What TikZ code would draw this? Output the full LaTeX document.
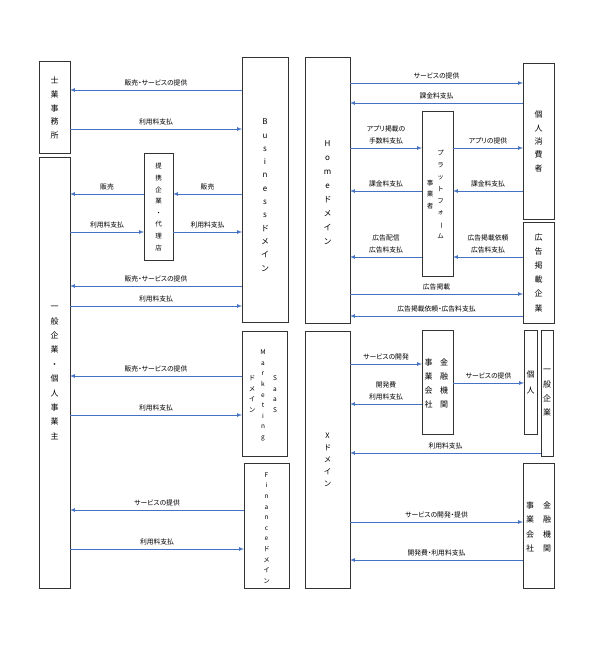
\documentclass[tikz,border=0pt]{standalone}
\usepackage{graphicx}
\usepackage{fontspec}
\setmainfont{Noto Sans CJK JP}
\newfontfamily\lblfont{Noto Sans CJK JP}[RawFeature=+palt]
\definecolor{flowblue}{HTML}{4472C4}
\newcommand{\boxfs}[2]{\fontsize{#1}{#2}\selectfont}
\newcommand{\vbar}{\rotatebox[origin=c]{-90}{ー}}

\begin{document}
\begin{tikzpicture}[x=1pt, y=-1pt]

\tikzstyle{block}=[rectangle,draw=black!80,line width=1pt,inner sep=0pt,outer sep=0pt,align=center]
\tikzstyle{vtext}=[inner sep=0pt,align=center]
\tikzstyle{flow}=[draw=flowblue,line width=0.7pt,-latex]
\tikzstyle{lbl}=[above,yshift=4pt,inner sep=0pt,align=center,font=\lblfont\fontsize{6.8}{11.5}\selectfont]

\useasboundingbox (0,0) rectangle (600,652);

% Business side
\node (shigyo) [block,minimum width=31pt,minimum height=92pt,font=\boxfs{8}{13.8}] at (54.5,108) {士\\業\\事\\務\\所};
\node (ippan) [block,minimum width=31pt,minimum height=430pt,font=\boxfs{8}{14.4}] at (54.5,373) {一\\般\\企\\業\\・\\個\\人\\事\\業\\主};
\node (biz) [block,minimum width=46pt,minimum height=264pt] at (265,190) {};
\node (biz-t) [vtext,font=\boxfs{8}{13.3}] at (265,195) {B\\u\\s\\i\\n\\e\\s\\s\\ド\\メ\\イ\\ン};
\node (teikei) [block,minimum width=29pt,minimum height=106pt,font=\boxfs{6.5}{11.6}] at (158.5,207) {提\\携\\企\\業\\・\\代\\理\\店};
\node (mkt) [block,minimum width=45pt,minimum height=125pt] at (264.5,393.5) {};
\node (mkt-a) [vtext,font=\boxfs{6.5}{10.6}] at (275,394) {S\\a\\a\\S};
\node (mkt-b) [vtext,font=\boxfs{6.5}{10.6}] at (263,395.5) {M\\a\\r\\k\\e\\t\\i\\n\\g};
\node (mkt-c) [vtext,font=\boxfs{6.5}{10.6}] at (252,394) {ド\\メ\\イ\\ン};
\node (fin) [block,minimum width=45pt,minimum height=125pt] at (266.5,525.5) {};
\node (fin-t) [vtext,font=\boxfs{6.5}{10.6}] at (266.5,528) {F\\i\\n\\a\\n\\c\\e\\ド\\メ\\イ\\ン};

% Home side
\node (home) [block,minimum width=45pt,minimum height=265pt] at (327.5,190.5) {};
\node (home-t) [vtext,font=\boxfs{8}{14}] at (327.5,193) {H\\o\\m\\e\\ド\\メ\\イ\\ン};
\node (kojin) [block,minimum width=31pt,minimum height=155pt,font=\boxfs{8}{13.4}] at (538.5,141.5) {個\\人\\消\\費\\者};
\node (koukoku) [block,minimum width=31pt,minimum height=101pt,font=\boxfs{8}{14.2}] at (538.5,272.5) {広\\告\\掲\\載\\企\\業};
\node (pf) [block,minimum width=31pt,minimum height=164pt] at (437.5,194) {};
\node (pf-a) [vtext,font=\boxfs{6.5}{11.9}] at (440.5,194.5) {プ\\ラ\\ッ\\ト\\フ\\ォ\\\vbar\\ム};
\node (pf-b) [vtext,font=\boxfs{6.5}{11.6}] at (430,194.5) {事\\業\\者};

% X side
\node (xdom) [block,minimum width=45pt,minimum height=257pt,font=\boxfs{7.5}{12}] at (327.5,459.5) {X\\ド\\メ\\イ\\ン};
\node (kinyu) [block,minimum width=31pt,minimum height=104pt] at (437.5,382) {};
\node (kinyu-a) [vtext,font=\boxfs{8}{14}] at (444,383) {金\\融\\機\\関};
\node (kinyu-b) [vtext,font=\boxfs{8}{14}] at (428.5,383) {事\\業\\会\\社};
\node (kojin2) [block,minimum width=13pt,minimum height=104pt,font=\boxfs{8}{16}] at (530.5,382) {個\\人};
\node (ippan2) [block,minimum width=12pt,minimum height=126pt,font=\boxfs{8}{14.3}] at (547,393) {一\\般\\企\\業};
\node (kinyu2) [block,minimum width=31pt,minimum height=125pt] at (538.5,525.5) {};
\node (kinyu2-a) [vtext,font=\boxfs{8}{14.5}] at (547,527) {金\\融\\機\\関};
\node (kinyu2-b) [vtext,font=\boxfs{8}{14.5}] at (530,527) {事\\業\\会\\社};

% Connections
\draw[flow] (biz.west |- 0,90) -- node[lbl] {販売・サービスの提供} (shigyo.east |- 0,90);
\draw[flow] (shigyo.east |- 0,129) -- node[lbl] {利用料支払} (biz.west |- 0,129);

\draw[flow] (teikei.west |- 0,194) -- node[lbl] {販売} (ippan.east |- 0,194);
\draw[flow] (biz.west |- 0,194) -- node[lbl] {販売} (teikei.east |- 0,194);
\draw[flow] (ippan.east |- 0,232) -- node[lbl] {利用料支払} (teikei.west |- 0,232);
\draw[flow] (teikei.east |- 0,232) -- node[lbl] {利用料支払} (biz.west |- 0,232);

\draw[flow] (biz.west |- 0,286) -- node[lbl] {販売・サービスの提供} (ippan.east |- 0,286);
\draw[flow] (ippan.east |- 0,306) -- node[lbl] {利用料支払} (biz.west |- 0,306);

\draw[flow] (mkt.west |- 0,376) -- node[lbl] {販売・サービスの提供} (ippan.east |- 0,376);
\draw[flow] (ippan.east |- 0,415) -- node[lbl] {利用料支払} (mkt.west |- 0,415);

\draw[flow] (fin.west |- 0,510) -- node[lbl] {サービスの提供} (ippan.east |- 0,510);
\draw[flow] (ippan.east |- 0,549) -- node[lbl] {利用料支払} (fin.west |- 0,549);

\draw[flow] (home.east |- 0,83) -- node[lbl] {サービスの提供} (kojin.west |- 0,83);
\draw[flow] (kojin.west |- 0,103) -- node[lbl] {課金料支払} (home.east |- 0,103);
\draw[flow] (home.east |- 0,148) -- node[lbl] {アプリ掲載の\\手数料支払} (pf.west |- 0,148);
\draw[flow] (pf.east |- 0,148) -- node[lbl] {アプリの提供} (kojin.west |- 0,148);
\draw[flow] (pf.west |- 0,191) -- node[lbl] {課金料支払} (home.east |- 0,191);
\draw[flow] (kojin.west |- 0,191) -- node[lbl] {課金料支払} (pf.east |- 0,191);
\draw[flow] (pf.west |- 0,257) -- node[lbl] {広告配信\\広告料支払} (home.east |- 0,257);
\draw[flow] (koukoku.west |- 0,257) -- node[lbl] {広告掲載依頼\\広告料支払} (pf.east |- 0,257);
\draw[flow] (home.east |- 0,294) -- node[lbl] {広告掲載} (koukoku.west |- 0,294);
\draw[flow] (koukoku.west |- 0,316) -- node[lbl] {広告掲載依頼・広告料支払} (home.east |- 0,316);

\draw[flow] (xdom.east |- 0,364) -- node[lbl] {サービスの開発} (kinyu.west |- 0,364);
\draw[flow] (kinyu.west |- 0,404) -- node[lbl] {開発費\\利用料支払} (xdom.east |- 0,404);
\draw[flow] (kinyu.east |- 0,383) -- node[lbl] {サービスの提供} (kojin2.west |- 0,383);
\draw[flow] (ippan2.west |- 0,453) -- node[lbl] {利用料支払} (xdom.east |- 0,453);
\draw[flow] (xdom.east |- 0,522) -- node[lbl] {サービスの開発・提供} (kinyu2.west |- 0,522);
\draw[flow] (kinyu2.west |- 0,560) -- node[lbl] {開発費・利用料支払} (xdom.east |- 0,560);

\end{tikzpicture}
\end{document}
